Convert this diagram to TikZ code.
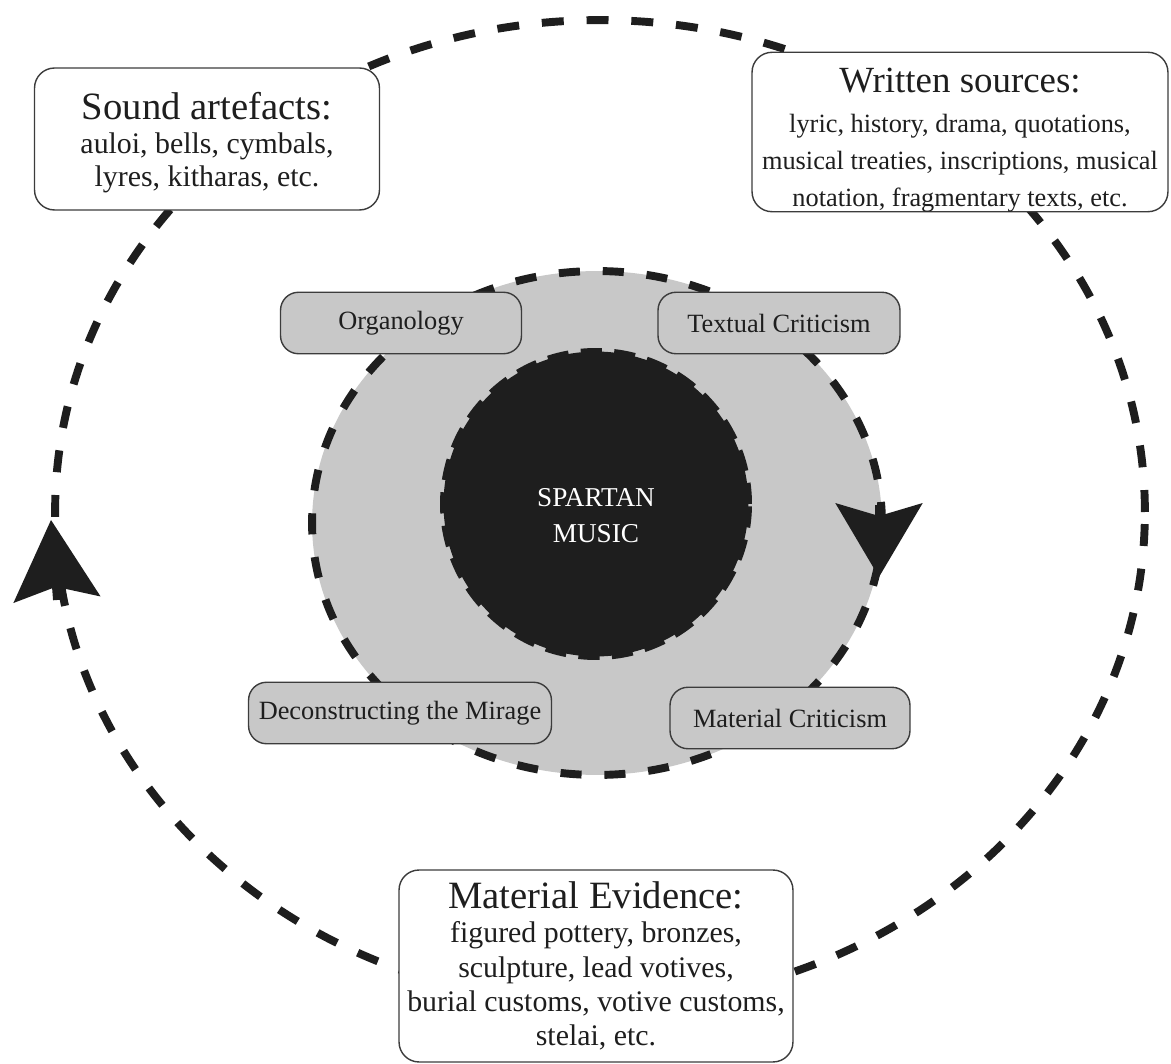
\documentclass[tikz,border=0pt]{standalone}
\usepackage{fontspec}
\setmainfont{Liberation Serif}
\usetikzlibrary{arrows.meta,shapes.geometric}
\definecolor{spartaInk}{HTML}{1E1E1E}
\definecolor{spartaGrey}{HTML}{C8C8C8}
\definecolor{spartaEdge}{HTML}{3C3C3C}
\tikzset{
  outer ring/.style={ellipse, draw=spartaInk, line width=4.5pt,
    dash pattern=on 12.5pt off 13pt, minimum width=21.8cm,
    minimum height=19.68cm, inner sep=0pt},
  discipline ring/.style={ellipse, draw=spartaInk, fill=spartaGrey,
    line width=4.5pt, dash pattern=on 12pt off 13pt,
    minimum width=11.4cm, minimum height=10.08cm, inner sep=0pt},
  core disc/.style={circle, draw=spartaInk, fill=spartaInk,
    line width=4pt, dash pattern=on 12pt off 7pt, minimum size=6.1cm,
    inner sep=0pt, text=white, align=center,
    font=\fontsize{15.5}{20.5}\selectfont},
  source box/.style={draw=spartaEdge, fill=white, line width=0.8pt,
    rounded corners=0.4cm, align=center, inner sep=0pt, text=spartaInk},
  method box/.style={draw=spartaEdge, fill=spartaGrey, line width=0.8pt,
    rounded corners=0.36cm, minimum height=1.23cm, inner sep=0pt,
    font=\fontsize{15}{18}\selectfont, text=spartaInk},
  cycle tip/.style={-{Stealth[length=#1, width=1.75cm, inset=0.26cm,
    line width=0pt]}, draw=spartaInk, line width=4.5pt}
}

\begin{document}
\begin{tikzpicture}[x=0.02cm, y=-0.02cm]
  \useasboundingbox (0,0) rectangle (1171,1064);
  \node[outer ring] (evidence ring) at (600,512) {};
  \coordinate (outer tip) at (51,520);
  \draw[cycle tip=1.6cm] (57,600) -- (outer tip);

  \node[source box, minimum width=6.9cm, minimum height=2.84cm,
    font=\fontsize{17}{19}\selectfont] (sound) at (207,139)
    {{\fontsize{22}{24}\selectfont\rule{0pt}{20pt}Sound artefacts:}\\
     auloi, bells, cymbals,\\ lyres, kitharas, etc.};
  \node[source box, minimum width=8.32cm, minimum height=3.02cm,
    font=\fontsize{15}{21}\selectfont] (written) at (960,132)
    {{\fontsize{21}{23}\selectfont\rule{0pt}{23pt}Written sources:}\\[1.5pt]
     lyric, history, drama, quotations,\\
     musical treaties, inscriptions, musical\\
     notation, fragmentary texts, etc.};
  \node[source box, minimum width=7.88cm, minimum height=3.84cm,
    font=\fontsize{17}{19.5}\selectfont] (evidence) at (596,966)
    {{\fontsize{22}{24}\selectfont Material Evidence:}\\
     figured pottery, bronzes,\\ sculpture, lead votives,\\
     burial customs, votive customs,\\ stelai, etc.};

  \node[discipline ring] (methods) at (597,523) {};
  \coordinate (inner tip) at (879,577);
  \draw[cycle tip=1.48cm] (879,505) -- (inner tip);
  \node[core disc] (spartan) at (596,504)
    {\rule{0pt}{23pt}SPARTAN\\MUSIC};

  \node[method box, minimum width=4.82cm] (organology) at (401,323)
    {Organology};
  \node[method box, minimum width=4.84cm] (textual) at (779,323)
    {Textual Criticism};
  \node[method box, minimum width=6.06cm] (mirage) at (400,713)
    {Deconstructing the Mirage};
  \node[method box, minimum width=4.8cm] (material) at (790,718)
    {Material Criticism};
\end{tikzpicture}
\end{document}
